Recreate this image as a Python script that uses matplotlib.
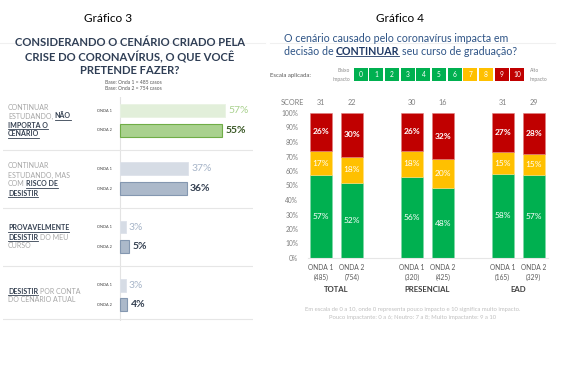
import matplotlib
matplotlib.use("Agg")
import matplotlib.pyplot as plt
from matplotlib.lines import Line2D

plt.rcParams['font.family'] = ['Lato', 'DejaVu Sans']

W, H = 574, 366

# ---- data, Gráfico 3 ----
g3_values_onda1 = [57, 37, 3, 3]
g3_values_onda2 = [55, 36, 5, 4]
g3_wave_labels = ["ONDA 1", "ONDA 2"]
g3_categories = [
    [[("CONTINUAR", False)], [("ESTUDANDO,", False), ("NÃO", True)], [("IMPORTA O", True)], [("CENÁRIO", True)]],
    [[("CONTINUAR", False)], [("ESTUDANDO, MAS", False)], [("COM", False), ("RISCO DE", True)], [("DESISTIR", True)]],
    [[("PROVAVELMENTE", True)], [("DESISTIR", True), ("DO MEU", False)], [("CURSO", False)]],
    [[("DESISTIR", True), ("POR CONTA", False)], [("DO CENÁRIO ATUAL", False)]],
]

# ---- data, Gráfico 4 ----
g4_groups = ["TOTAL", "PRESENCIAL", "EAD"]
g4_waves = ["ONDA 1", "ONDA 2"]
g4_bases = ["(485)", "(754)", "(320)", "(425)", "(165)", "(329)"]
g4_pouco = [57, 52, 56, 48, 58, 57]
g4_neutro = [17, 18, 18, 20, 15, 15]
g4_muito = [26, 30, 26, 32, 27, 28]
g4_score = [31, 22, 30, 16, 31, 29]
scale_points = list(range(11))

fig = plt.figure(figsize=(W / 100, H / 100), dpi=100)
fig.patch.set_facecolor("white")


def fx(x):
    return x / W


def fy(y):
    return 1 - y / H


renderer = fig.canvas.get_renderer()


def rich_line(x, y, parts, size, light, dark, gap=2.0, **kw):
    """write a line of text made of plain and bold+underlined pieces"""
    cx = x
    for txt, strong in parts:
        t = fig.text(fx(cx), fy(y), txt, fontsize=size, va="baseline", ha="left",
                     color=dark if strong else light,
                     fontweight="bold" if strong else "normal", **kw)
        bb = t.get_window_extent(renderer=renderer)
        if strong:
            uy = H - y + 1.2
            fig.add_artist(Line2D([bb.x0 / W, bb.x1 / W], [(uy - 2.2) / H, (uy - 2.2) / H],
                                  color=dark, lw=0.6))
        cx = bb.x1 + gap
    return cx


# ================= Gráfico 3 =================
fig.text(fx(108), fy(19), "Gráfico 3", fontsize=8.5, ha="center", va="center", color="black")
fig.add_artist(Line2D([fx(0), fx(265)], [fy(43), fy(43)], color="#f0f0f0", lw=0.8))
title_color = "#2f3e55"
for i, line in enumerate(["CONSIDERANDO O CENÁRIO CRIADO PELA",
                          "CRISE DO CORONAVÍRUS, O QUE VOCÊ",
                          "PRETENDE FAZER?"]):
    fig.text(fx(130), fy(43 + i * 14), line, fontsize=8.1, fontweight="bold",
             ha="center", va="center", color=title_color)
fig.text(fx(133), fy(82), "Base: Onda 1 = 485 casos", fontsize=3.6, ha="center", va="center", color="#595959")
fig.text(fx(133), fy(89), "Base: Onda 2 = 754 casos", fontsize=3.6, ha="center", va="center", color="#595959")

px_per_pct = 1.85
ax1 = fig.add_axes([fx(3), fy(321), fx(250), (321 - 97) / H])
ax1.set_xlim(-(120 - 3) / px_per_pct, (253 - 120) / px_per_pct)
ax1.set_ylim((321 - 111) / 58, (97 - 111) / 58)
ax1.axis("off")

row_gap = 19.5 / 58
bar_h = 13 / 58
fills1 = ["#e2efda", "#d6dce5", "#d6dce5", "#d6dce5"]
fills2 = ["#a9d18e", "#acb9ca", "#acb9ca", "#acb9ca"]
edges1 = ["#e9f3e3", "#dde2ea", "#dde2ea", "#dde2ea"]
edges2 = ["#70ad47", "#8497b0", "#8497b0", "#8497b0"]
txt1 = ["#a9d18e", "#a6b4c8", "#a6b4c8", "#a6b4c8"]
txt2 = ["#375623", "#333f50", "#333f50", "#333f50"]

ax1.axvline(0, color="#e3e3e3", lw=0.8, zorder=0)
for g in range(len(g3_values_onda1)):
    y1, y2 = g, g + row_gap
    ax1.barh(y1, g3_values_onda1[g], height=bar_h, color=fills1[g], edgecolor=edges1[g], lw=0.6)
    ax1.barh(y2, g3_values_onda2[g], height=bar_h, color=fills2[g], edgecolor=edges2[g], lw=0.8)
    ax1.text(g3_values_onda1[g] + 1.8, y1, f"{g3_values_onda1[g]}%", fontsize=7.5,
             color=txt1[g], va="center", ha="left")
    ax1.text(g3_values_onda2[g] + 1.8, y2, f"{g3_values_onda2[g]}%", fontsize=7.5,
             color=txt2[g], va="center", ha="left", fontweight="bold")
    ax1.text(-12.4, y1, g3_wave_labels[0], fontsize=2.8, color="#404040", va="center", ha="left")
    ax1.text(-12.4, y2, g3_wave_labels[1], fontsize=2.8, color="#404040", va="center", ha="left")
    sep = g + 0.668 if g < 3 else 3.59
    ax1.axhline(sep, color="#e6e6e6", lw=0.8, zorder=0)

cat_tops = [107, 166, 228, 291]
for g, lines in enumerate(g3_categories):
    for k, parts in enumerate(lines):
        rich_line(8, cat_tops[g] + 2.5 + k * 9, parts, 5.0, "#a6a6a6", "#333f50", gap=1.6)

# ================= Gráfico 4 =================
fig.text(fx(400), fy(19), "Gráfico 4", fontsize=8.5, ha="center", va="center", color="black")
fig.add_artist(Line2D([fx(270), fx(555)], [fy(43), fy(43)], color="#f0f0f0", lw=0.8))
blue = "#2e5486"
fig.text(fx(284), fy(42), "O cenário causado pelo coronavírus impacta em", fontsize=7.7,
         color=blue, va="baseline", ha="left")
rich_line(284, 55, [("decisão de", False), ("CONTINUAR", True), ("seu curso de graduação?", False)],
          7.7, blue, "#1f3864", gap=2.4)

# scale
fig.text(fx(270), fy(75), "Escala aplicada:", fontsize=4.3, color="#595959", va="center", ha="left")
fig.text(fx(350), fy(71), "Baixo", fontsize=3.6, color="#8c8c8c", va="center", ha="right")
fig.text(fx(350), fy(79), "impacto", fontsize=3.6, color="#8c8c8c", va="center", ha="right")
fig.text(fx(530), fy(71), "Alto", fontsize=3.6, color="#8c8c8c", va="center", ha="left")
fig.text(fx(530), fy(79), "impacto", fontsize=3.6, color="#8c8c8c", va="center", ha="left")
axs = fig.add_axes([fx(353), fy(81), fx(172), 13 / H])
scale_colors = ["#00b050"] * 7 + ["#ffc000"] * 2 + ["#c00000"] * 2
axs.bar(scale_points, 1, width=0.9, color=scale_colors)
for p in scale_points:
    axs.text(p, 0.5, str(p), color="white", fontsize=4.8, ha="center", va="center")
axs.set_xlim(-0.5, 10.5)
axs.set_ylim(0, 1)
axs.axis("off")

# stacked bars
unit = 31.0
ax2 = fig.add_axes([fx(308), fy(258), fx(240), 145 / H])
ax2.set_xlim((308 - 321) / unit, (548 - 321) / unit)
ax2.set_ylim(0, 100)
group_step = 2.93
pos = [g * group_step + w for g in range(len(g4_groups)) for w in range(len(g4_waves))]
bw = 0.7
bottom2 = [a + b for a, b in zip(g4_pouco, g4_neutro)]
ax2.bar(pos, g4_pouco, width=bw, color="#00b050", edgecolor="#7fd7a7", lw=0.4)
ax2.bar(pos, g4_neutro, bottom=g4_pouco, width=bw, color="#ffc000", edgecolor="#ffdf80", lw=0.4)
ax2.bar(pos, g4_muito, bottom=bottom2, width=bw, color="#c00000", edgecolor="#e08080", lw=0.4)
for i, x in enumerate(pos):
    ax2.text(x, g4_pouco[i] / 2, f"{g4_pouco[i]}%", color="white", fontsize=6, ha="center", va="center")
    ax2.text(x, g4_pouco[i] + g4_neutro[i] / 2, f"{g4_neutro[i]}%", color="white", fontsize=6,
             ha="center", va="center")
    ax2.text(x, bottom2[i] + g4_muito[i] / 2, f"{g4_muito[i]}%", color="white", fontsize=6,
             ha="center", va="center", fontweight="bold")
    ax2.text(x, 107.5, str(g4_score[i]), color="#7f7f7f", fontsize=5.2, ha="center", va="center",
             clip_on=False)
ax2.text((292 - 321) / unit, 107.5, "SCORE", color="#7f7f7f", fontsize=5.2, ha="center", va="center",
         clip_on=False)

ax2.set_yticks(range(0, 101, 10))
ax2.set_yticklabels([f"{v}%" for v in range(0, 101, 10)], fontsize=4.8, color="#7f7f7f")
ax2.tick_params(axis="y", length=0, pad=7)
ax2.set_xticks(pos)
ax2.set_xticklabels([f"{g4_waves[i % 2]}\n{g4_bases[i]}" for i in range(len(pos))],
                    fontsize=4.8, color="#595959", linespacing=1.6)
ax2.tick_params(axis="x", length=0, pad=4)
for s in ["top", "right", "left"]:
    ax2.spines[s].set_visible(False)
ax2.spines["bottom"].set_color("#e6e6e6")
ax2.spines["bottom"].set_linewidth(0.8)
for g, name in enumerate(g4_groups):
    ax2.text(g * group_step + 0.5, -22, name, fontsize=5.6, fontweight="bold", color="#404040",
             ha="center", va="center", clip_on=False)

fig.text(fx(413), fy(309), "Em escala de 0 a 10, onde 0 representa pouco impacto e 10 significa muito impacto.",
         fontsize=4.2, color="#bfbfbf", ha="center", va="center")
fig.text(fx(413), fy(317), "Pouco impactante: 0 a 6; Neutro: 7 a 8; Muito impactante: 9 a 10",
         fontsize=4.2, color="#bfbfbf", ha="center", va="center")

fig.savefig("out.png", dpi=100)
